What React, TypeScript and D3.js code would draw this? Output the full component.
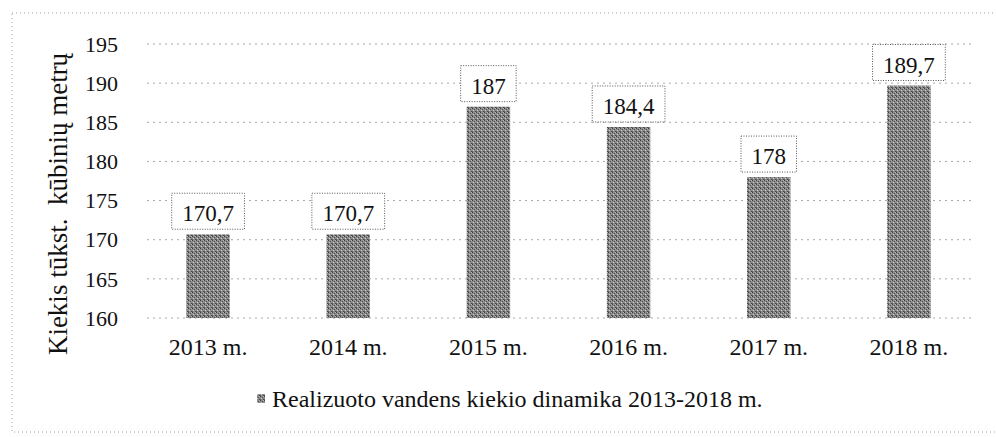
import React from 'react';
import * as d3 from 'd3';

const years = ['2013 m.', '2014 m.', '2015 m.', '2016 m.', '2017 m.', '2018 m.'];
const values = [170.7, 170.7, 187, 184.4, 178, 189.7];
const valueLabels = ['170,7', '170,7', '187', '184,4', '178', '189,7'];
const yTicks = [160, 165, 170, 175, 180, 185, 190, 195];
const yTitle = 'Kiekis tūkst.  kūbinių metrų';
const legendLabel = 'Realizuoto vandens kiekio dinamika 2013-2018 m.';

const W = 996;
const H = 437;
const font = "'Liberation Serif', 'Times New Roman', serif";

function App() {
  const x = d3.scaleBand().domain(years).range([138, 979]).paddingInner(0.69).paddingOuter(0.345);
  const y = d3.scaleLinear().domain([160, 195]).range([318, 44]);

  // box width from Times digit/comma widths at 23px
  const boxW = (s: string) => s.split('').reduce((a, ch) => a + (ch === ',' ? 5.75 : 11.5), 0) + 21;

  return (
    <svg width={W} height={H} style={{ position: 'absolute', left: 0, top: 0, background: '#fff', fontFamily: font }}>
      <defs>
        <pattern id="grain" width="4" height="4" patternUnits="userSpaceOnUse">
          <rect width="4" height="4" fill="#8c8c8c" />
          <rect x="0" y="0" width="1" height="1" fill="#3c3c3c" />
          <rect x="2" y="1" width="1" height="1" fill="#505050" />
          <rect x="1" y="2" width="1" height="1" fill="#c8c8c8" />
          <rect x="3" y="3" width="1" height="1" fill="#464646" />
          <rect x="3" y="0" width="1" height="1" fill="#b4b4b4" />
          <rect x="0" y="3" width="1" height="1" fill="#606060" />
        </pattern>
      </defs>

      {/* scanned outer frame */}
      <rect x={12} y={13} width={1000} height={419} fill="none" stroke="#a0a0a0" strokeWidth={1} strokeDasharray="1,3" />

      {/* grid */}
      {yTicks.map(t => (
        <line key={t} x1={147} x2={975} y1={y(t)} y2={y(t)} stroke="#a8a8a8" strokeWidth={1} strokeDasharray="2,4" />
      ))}

      {/* y ticks */}
      {yTicks.map(t => (
        <text key={'t' + t} x={118} y={y(t)} dy="0.35em" textAnchor="end" fontSize={22} fill="#111">
          {t}
        </text>
      ))}

      <text
        transform={`translate(67, 204) rotate(-90)`}
        textAnchor="middle"
        fontSize={27}
        fill="#111"
        style={{ whiteSpace: 'pre' }}
      >
        {yTitle}
      </text>

      {/* bars */}
      {years.map((c, i) => (
        <rect key={c} x={x(c)} y={y(values[i])} width={x.bandwidth()} height={y(160) - y(values[i])} fill="url(#grain)" />
      ))}

      {/* value label boxes */}
      {years.map((c, i) => {
        const cx = (x(c) as number) + x.bandwidth() / 2;
        const bw = boxW(valueLabels[i]);
        const bottom = y(values[i]) - 5;
        return (
          <g key={'l' + c}>
            <rect x={cx - bw / 2} y={bottom - 36} width={bw} height={36} fill="#fff" stroke="#555" strokeWidth={1} strokeDasharray="1,1.5" />
            <text x={cx} y={bottom - 16} dy="0.35em" textAnchor="middle" fontSize={23} fill="#111">
              {valueLabels[i]}
            </text>
          </g>
        );
      })}

      {/* category labels */}
      {years.map(c => (
        <text key={'c' + c} x={(x(c) as number) + x.bandwidth() / 2} y={355} textAnchor="middle" fontSize={24} fill="#111">
          {c}
        </text>
      ))}

      {/* legend */}
      <rect x={257} y={394} width={8} height={9} fill="url(#grain)" />
      <text x={272} y={407} fontSize={24} fill="#111">
        {legendLabel}
      </text>
    </svg>
  );
}

export default App;
